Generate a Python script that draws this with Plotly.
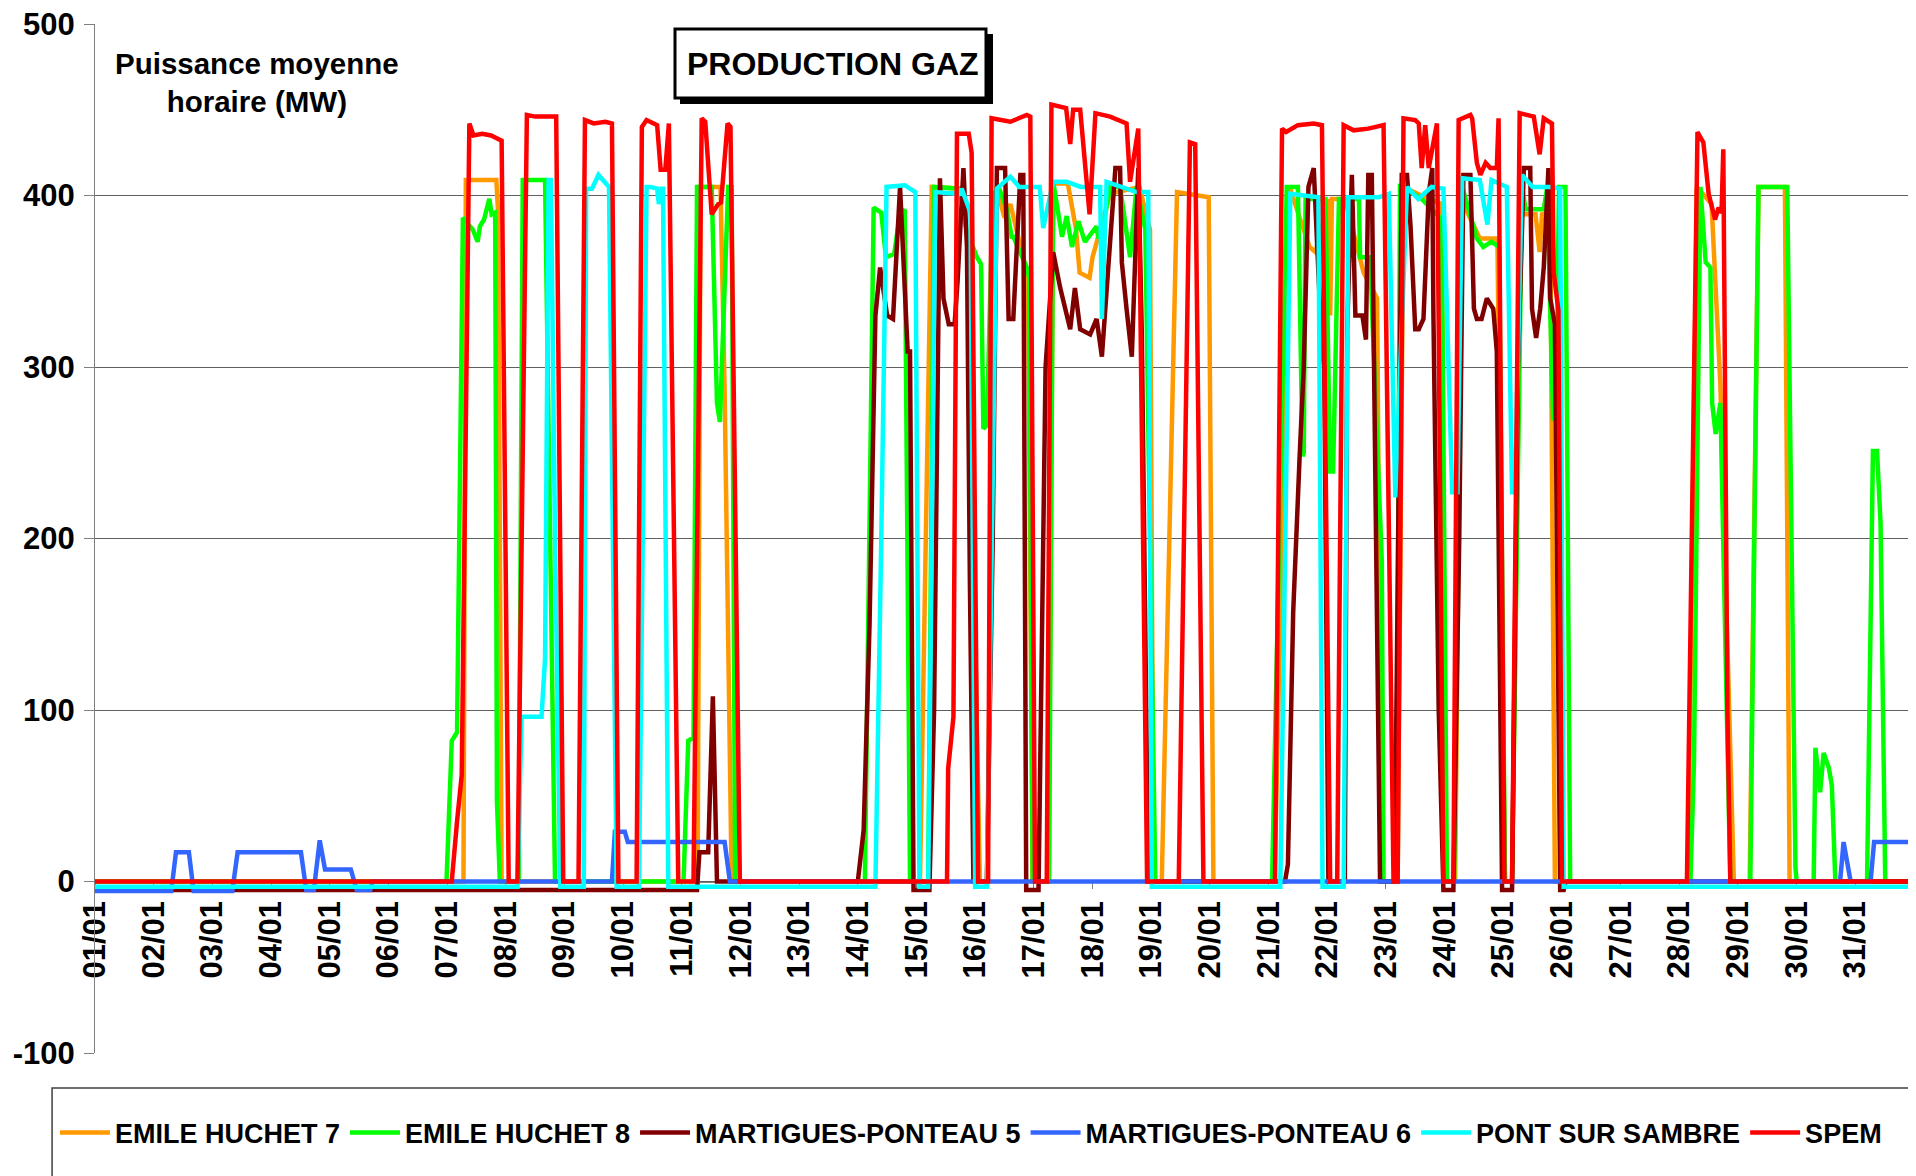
import plotly.graph_objects as go

# Axis labels ##################################################
date_labels = ["01/01", "02/01", "03/01", "04/01", "05/01", "06/01", "07/01", "08/01",
               "09/01", "10/01", "11/01", "12/01", "13/01", "14/01", "15/01", "16/01",
               "17/01", "18/01", "19/01", "20/01", "21/01", "22/01", "23/01", "24/01",
               "25/01", "26/01", "27/01", "28/01", "29/01", "30/01", "31/01"]
date_ticks = [0, 1, 2, 3, 4, 5, 6, 7, 8, 9, 10, 11, 12, 13, 14, 15,
              16, 17, 18, 19, 20, 21, 22, 23, 24, 25, 26, 27, 28, 29, 30]
mw_ticks = [-100, 0, 100, 200, 300, 400, 500]
mw_labels = ["-100", "0", "100", "200", "300", "400", "500"]

# Series (time in days from 01/01 00h, MW) ##################################################
eh7_t = [0, 6.28, 6.32, 6.84, 6.87, 6.93, 10.27, 10.32, 10.66, 10.73, 10.85,
         14.06, 14.26, 14.74, 14.9, 14.98, 15.08, 15.2, 15.36, 15.5, 15.6, 15.9, 15.98,
         16.25, 16.33, 16.58, 16.72, 16.78, 16.95, 17.0, 17.3, 17.8, 17.98, 18.04,
         18.18, 18.44, 18.98, 19.06, 20.1, 20.37, 20.5, 20.7, 20.8, 20.9, 21.02, 21.05,
         21.08, 21.3, 21.62, 21.85, 21.93, 22.2, 22.3, 22.6, 22.95, 23.02, 23.18, 23.3,
         23.35, 23.6, 23.9, 24.03, 24.15, 24.3, 24.55, 24.62, 24.66, 24.8, 24.88,
         27.15, 27.3, 27.55, 27.7, 27.93, 28.2, 28.35, 28.8, 28.88, 31]
eh7_v = [0, 0, 409, 409, 390, 0, 0, 405, 405, 287, 0,
         0, 405, 404, 370, 178, 0, 0, 405, 387, 395, 352, 0,
         0, 407, 407, 380, 355, 352, 364, 401, 405, 380, 0,
         0, 402, 399, 0, 0, 404, 390, 370, 367, 380, 398, 330,
         398, 398, 355, 340, 0, 0, 405, 400, 395, 0, 0, 405,
         393, 375, 375, 0, 0, 389, 389, 367, 389, 390, 0,
         0, 405, 395, 290, 0, 0, 405, 405, 0, 0]

eh8_t = [0, 5.99, 6.08, 6.17, 6.27, 6.44, 6.52, 6.56, 6.63, 6.72, 6.76, 6.82, 6.85, 6.9,
         7.22, 7.29, 7.67, 7.84, 10.03, 10.11, 10.2, 10.26, 10.51, 10.54, 10.6, 10.65,
         10.74, 10.79, 10.85, 10.91, 13.12, 13.27, 13.4, 13.48, 13.62, 13.73, 13.8, 13.89,
         14.2, 14.3, 14.74, 14.85, 15.03, 15.1, 15.14, 15.2, 15.3, 15.4, 15.54, 15.62,
         15.65, 15.88, 15.92, 15.98, 16.26, 16.33, 16.48, 16.56, 16.65, 16.76, 16.87,
         17.07, 17.1, 17.18, 17.3, 17.47, 17.64, 17.75, 17.9, 18.07, 20.06, 20.31, 20.5,
         20.58, 20.6, 20.63, 20.8, 20.97, 21.05, 21.1, 21.2, 21.54, 21.56, 21.73, 21.93,
         21.96, 22.18, 22.24, 22.47, 22.61, 22.95, 23.04, 23.16, 23.3, 23.55, 23.6, 23.66,
         23.8, 23.93, 24.03, 24.15, 24.32, 24.38, 24.69, 24.75, 24.8, 24.85, 24.9, 24.95,
         25.06, 25.14, 27.19, 27.25, 27.36, 27.45, 27.53, 27.56, 27.62, 27.7, 27.87,
         28.21, 28.35, 28.84, 28.98, 29.0, 29.29, 29.32, 29.4, 29.46, 29.55, 29.6, 29.66,
         30.2, 30.3, 30.37, 30.43, 30.51, 31]
eh8_v = [0, 0, 82, 87, 387, 380, 373, 382, 386, 398, 389, 390, 47, 0,
         0, 409, 409, 0, 0, 82, 84, 405, 405, 355, 279, 268,
         346, 405, 405, 0, 0, 393, 390, 364, 366, 392, 391, 0,
         0, 405, 404, 380, 364, 360, 264, 266, 400, 405, 392, 376,
         376, 358, 352, 0, 0, 408, 376, 388, 370, 385, 373,
         382, 375, 382, 405, 405, 364, 405, 380, 0, 0, 405, 405,
         248, 250, 398, 398, 398, 239, 239, 398, 398, 364, 364, 187,
         0, 0, 405, 401, 398, 386, 0, 0, 405, 375, 373, 370,
         373, 370, 0, 0, 405, 392, 392, 405, 334, 270, 270, 405,
         405, 0, 0, 69, 405, 361, 358, 279, 261, 279, 0,
         0, 405, 405, 8, 0, 0, 78, 52, 75, 66, 56, 0,
         0, 251, 251, 209, 0, 0]

mp5_t = [0, 10.26, 10.3, 10.45, 10.53, 10.6, 13.0, 13.1, 13.2, 13.3, 13.38, 13.5, 13.6,
         13.72, 13.85, 13.89, 13.95, 14.22, 14.3, 14.4, 14.46, 14.55, 14.65, 14.7, 14.8,
         14.86, 14.91, 14.97, 15.2, 15.3, 15.37, 15.51, 15.57, 15.65, 15.77, 15.82, 15.87,
         16.08, 16.2, 16.33, 16.45, 16.62, 16.7, 16.79, 16.96, 17.07, 17.16, 17.24, 17.39,
         17.47, 17.5, 17.58, 17.67, 17.78, 17.84, 17.95, 20.28, 20.33, 20.42, 20.53, 20.6,
         20.68, 20.77, 20.91, 20.95, 21.02, 21.3, 21.34, 21.42, 21.48, 21.6, 21.66, 21.7,
         21.76, 21.9, 22.15, 22.27, 22.36, 22.42, 22.5, 22.56, 22.64, 22.73, 22.79, 22.81,
         22.9, 22.98, 23.15, 23.25, 23.32, 23.44, 23.5, 23.55, 23.63, 23.72, 23.83, 23.89,
         23.98, 24.15, 24.25, 24.35, 24.46, 24.49, 24.56, 24.63, 24.69, 24.77, 24.8, 24.88,
         24.97, 25.03, 25.06, 31]
mp5_v = [-5, -5, 17, 17, 108, 0, 0, 30, 150, 330, 358, 330, 328,
         405, 309, 309, -5, -5, 100, 410, 340, 325, 325, 350, 416,
         370, 175, 0, 0, 200, 416, 416, 328, 328, 412, 412, -5,
         -5, 300, 367, 346, 322, 346, 322, 319, 328, 306, 346, 416,
         416, 361, 334, 306, 416, 319, 0, 0, 10, 157, 248, 300,
         405, 416, 309, 300, 0, 0, 322, 412, 330, 330, 316, 412,
         412, 0, 0, 412, 412, 382, 322, 322, 328, 401, 416, 330,
         100, -5, -5, 200, 412, 412, 334, 328, 328, 340, 334, 309,
         -5, -5, 300, 416, 416, 334, 317, 334, 358, 416, 340, 325,
         -5, -5, 0, 0]

mp6_t = [0, 1.3, 1.38, 1.6, 1.68, 2.34, 2.43, 3.51, 3.6, 3.73, 3.83, 3.92, 4.36, 4.46,
         4.69, 4.73, 8.81, 8.86, 9.03, 9.08, 10.73, 10.82, 29.74, 29.8, 29.92, 30.26,
         30.32, 31]
mp6_v = [-5.5, -5.5, 17, 17, -5.5, -5.5, 17, 17, -5, -5, 24, 7, 7, -5,
         -5, 0, 0, 29, 29, 23, 23, 0, 0, 23, 0, 0,
         23, 23]

pss_t = [0, 7.2, 7.27, 7.61, 7.67, 7.73, 7.77, 7.84, 7.93, 8.33, 8.37, 8.47, 8.58, 8.69,
         8.76, 8.89, 9.27, 9.4, 9.46, 9.58, 9.61, 9.66, 9.68, 9.77, 13.3, 13.4, 13.49,
         13.8, 13.98, 14.05, 14.2, 14.32, 14.74, 14.77, 14.92, 15.0, 15.2, 15.37, 15.6,
         15.75, 16.1, 16.16, 16.33, 16.56, 16.8, 17.13, 17.16, 17.24, 17.5, 17.75, 17.95,
         18.01, 20.2, 20.37, 20.85, 20.92, 21.28, 21.36, 21.88, 22.05, 22.16, 22.36, 22.55,
         22.78, 22.98, 23.13, 23.22, 23.3, 23.6, 23.73, 23.8, 24.06, 24.15, 24.2, 24.32,
         24.5, 24.8, 24.97, 25.03, 31]
pss_v = [-3, -3, 96, 96, 130, 409, 409, 200, -3, -3, 404, 404, 412, 408,
         405, -3, -3, 405, 405, 404, 395, 404, 404, -3, -3, 200, 405,
         406, 402, -3, -3, 402, 401, 404, 390, -3, -3, 404, 411,
         405, 405, 381, 408, 408, 405, 405, 328, 408, 405, 402, 402,
         -3, -3, 401, 399, -3, -3, 399, 399, 401, 224, 405, 398,
         405, 404, 227, 227, 410, 409, 383, 409, 405, 227, 227, 412,
         405, 405, 404, -3, -3]

spem_t = [0, 6.08, 6.17, 6.25, 6.38, 6.45, 6.6, 6.75, 6.93, 7.05, 7.2, 7.36, 7.5, 7.86,
          7.98, 8.24, 8.35, 8.5, 8.7, 8.81, 8.92, 9.23, 9.32, 9.4, 9.58, 9.64, 9.72,
          9.78, 9.94, 10.2, 10.34, 10.4, 10.51, 10.62, 10.67, 10.78, 10.83, 10.99,
          14.52, 14.54, 14.63, 14.69, 14.89, 14.94, 15.05, 15.22, 15.28, 15.6, 15.88,
          15.94, 16.02, 16.22, 16.3, 16.55, 16.62, 16.67, 16.79, 16.95, 17.05, 17.3, 17.58,
          17.64, 17.78, 17.93, 18.47, 18.66, 18.75, 18.89, 20.11, 20.23, 20.3, 20.5, 20.77,
          20.91, 21.05, 21.17, 21.28, 21.45, 21.7, 21.96, 22.13, 22.2, 22.3, 22.5, 22.56,
          22.61, 22.67, 22.73, 22.87, 22.98, 23.15, 23.24, 23.44, 23.47, 23.55, 23.61,
          23.7, 23.78, 23.89, 23.92, 24.02, 24.15, 24.28, 24.52, 24.62, 24.69, 24.83,
          24.86, 24.94, 25.0, 27.13, 27.31, 27.41, 27.5, 27.61, 27.67, 27.72, 27.75,
          27.82, 27.87, 31]
spem_v = [0, 0, 35, 62, 442, 435, 436, 435, 432, 0, 0, 447, 446, 446,
          0, 0, 444, 442, 443, 442, 0, 0, 440, 444, 441, 415, 415,
          442, 0, 0, 445, 443, 389, 395, 396, 442, 440, 0,
          0, 66, 96, 436, 436, 425, 0, 0, 445, 443, 447,
          446, 0, 0, 453, 451, 430, 450, 450, 389, 448, 446, 442,
          408, 439, 0, 0, 431, 430, 0, 0, 439, 437, 441, 442,
          441, 0, 0, 441, 438, 439, 441, 0, 0, 445, 444, 442,
          416, 441, 416, 442, 0, 0, 444, 447, 445, 419, 412,
          419, 416, 416, 445, 0, 0, 448, 446, 424, 445, 442,
          355, 333, 0, 0, 437, 431, 401, 386, 393, 390, 427,
          100, 0, 0]

series = [
    ("EMILE HUCHET 7", eh7_t, eh7_v, "#FF9900"),
    ("EMILE HUCHET 8", eh8_t, eh8_v, "#00FF00"),
    ("MARTIGUES-PONTEAU 5", mp5_t, mp5_v, "#800000"),
    ("MARTIGUES-PONTEAU 6", mp6_t, mp6_v, "#3366FF"),
    ("PONT SUR SAMBRE", pss_t, pss_v, "#00FFFF"),
    ("SPEM", spem_t, spem_v, "#FF0000"),
]

fig = go.Figure()
for name, t, v, color in series:
    fig.add_trace(go.Scatter(x=t, y=v, name=name, mode="lines",
                             line=dict(color=color, width=4.5)))

# Layout (page body adds 8px offset) ##################################################
fig.update_layout(
    autosize=False,
    width=1908,
    height=1168,
    margin=dict(l=87, r=2, t=16, b=123, autoexpand=False),
    paper_bgcolor="white",
    plot_bgcolor="white",
    font=dict(family="Liberation Sans, Arial, sans-serif", size=31,
              color="black", weight="bold"),
    legend=dict(
        orientation="h",
        x=-0.022, xanchor="left",
        y=-0.0777, yanchor="middle",
        font=dict(size=27),
        itemwidth=50,
        bgcolor="rgba(0,0,0,0)",
        traceorder="normal"
    ),
    xaxis=dict(
        range=[0, 31],
        tickmode="array",
        tickvals=date_ticks,
        ticktext=date_labels,
        tickangle=-90,
        anchor="free",
        position=1 / 6,
        showgrid=False,
        zeroline=False,
        showline=True,
        linecolor="#808080",
        ticks="outside",
        ticklen=6,
        tickcolor="#808080",
        layer="below traces",
        automargin=False,
        ticklabeloverflow="allow"
    ),
    yaxis=dict(
        range=[-100, 500],
        tickmode="array",
        tickvals=mw_ticks,
        ticktext=mw_labels,
        showgrid=True,
        gridcolor="#606060",
        gridwidth=1,
        zeroline=False,
        showline=True,
        linecolor="#808080",
        ticks="outside",
        ticklen=10,
        tickcolor="#808080",
        ticklabelstandoff=3,
        automargin=False,
        ticklabeloverflow="allow"
    ),
    shapes=[
        # legend frame
        dict(type="rect", xref="paper", yref="paper",
             x0=-0.0236, x1=0.9973, y0=-0.14, y1=-0.034,
             line=dict(color="#404040", width=1.5), fillcolor="rgba(0,0,0,0)"),
        # title box shadow
        dict(type="rect", xref="paper", yref="paper",
             x0=(680 - 95) / 1819, x1=(993 - 95) / 1819,
             y0=(1053 - 104) / 1029, y1=(1053 - 34) / 1029,
             line=dict(width=0), fillcolor="black", layer="above"),
        # title box
        dict(type="rect", xref="paper", yref="paper",
             x0=(675 - 95) / 1819, x1=(986 - 95) / 1819,
             y0=(1053 - 98) / 1029, y1=(1053 - 29) / 1029,
             line=dict(color="black", width=3), fillcolor="white", layer="above"),
    ],
    annotations=[
        dict(text="PRODUCTION GAZ", xref="paper", yref="paper",
             x=(833 - 95) / 1819, y=(1053 - 64) / 1029,
             showarrow=False, font=dict(size=32), xanchor="center", yanchor="middle"),
        dict(text="Puissance moyenne<br>horaire (MW)", xref="paper", yref="paper",
             x=(257 - 95) / 1819, y=(1053 - 82) / 1029,
             showarrow=False, font=dict(size=29.5), align="center",
             xanchor="center", yanchor="middle"),
    ]
)

fig.write_html("out.html")
